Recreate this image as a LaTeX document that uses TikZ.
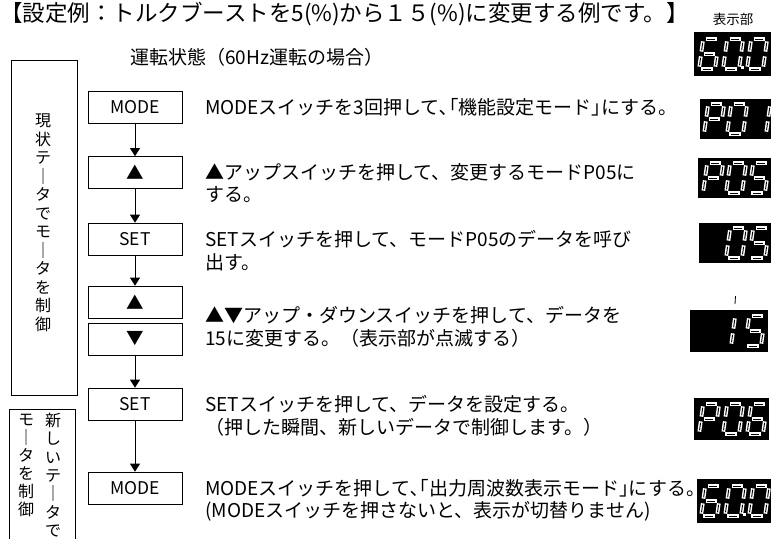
\documentclass[tikz,border=0pt]{standalone}
\usepackage{fontspec}
\setmainfont{Noto Sans CJK JP}
\usetikzlibrary{arrows.meta}
\tikzset{
  flowbox/.style={draw, line width=0.7pt, minimum width=94pt, minimum height=32pt, inner sep=0pt, font=\fontsize{17.5}{20}\selectfont},
  desc/.style={anchor=west, inner sep=0pt, font=\fontsize{19}{22}\selectfont},
  flowarrow/.style={line width=0.7pt, -{Triangle[width=10pt,length=8pt]}},
  dispbox/.style={fill=black, draw=none},
  sideframe/.style={draw, line width=0.7pt},
  vtext/.style={align=center, inner sep=0pt, anchor=north, font=\fontsize{16}{18.5}\selectfont},
  segout/.style={white, line width=3.8pt, shorten <=2.4pt, shorten >=2.4pt},
  segin/.style={black, line width=0.9pt, shorten <=3.8pt, shorten >=3.8pt}
}
\newcommand\segdraw[2]{\draw[segout] #1 -- #2; \draw[segin] #1 -- #2;}
\newcommand\sga{\segdraw{(0,-30)}{(16,-30)}}
\newcommand\sgb{\segdraw{(16,-30)}{(16,-15)}}
\newcommand\sgc{\segdraw{(16,-15)}{(16,0)}}
\newcommand\sgd{\segdraw{(0,0)}{(16,0)}}
\newcommand\sge{\segdraw{(0,-15)}{(0,0)}}
\newcommand\sgf{\segdraw{(0,-30)}{(0,-15)}}
\newcommand\sgg{\segdraw{(0,-15)}{(16,-15)}}
\newcommand\sevdigit[3]{%
  \begin{scope}[shift={(#1,#2)}, xslant=0.14]
    \foreach \sg in {#3}{\csname sg\sg\endcsname}
  \end{scope}}
\begin{document}
\begin{tikzpicture}[x=1pt,y=-1pt]
\useasboundingbox (0,0) rectangle (771,539);

% title and headings
\node[anchor=west, inner sep=0pt, font=\fontsize{22.5}{25}\selectfont] (title) at (0,14)
  {【設定例：トルクブーストを5(\%)から１５(\%)に変更する例です。】};
\node[inner sep=0pt, font=\fontsize{13.5}{15}\selectfont] (dlabel) at (733,19) {表示部};
\node[anchor=west, inner sep=0pt, font=\fontsize{19}{22}\selectfont] (state) at (130,57)
  {運転状態（60Hz運転の場合）};

% left frames
\node[sideframe, minimum width=66pt, minimum height=335pt, inner sep=0pt] (frame1) at (44,227.5) {};
\node[vtext] (vt1) at (43,114) {現\\状\\テ\\｜\\タ\\で\\モ\\｜\\タ\\を\\制\\御};
\draw[sideframe] (9,539) -- (9,409) -- (75,409) -- (75,539);
\node[vtext, font=\fontsize{16}{18.3}\selectfont] (vt2) at (53,413) {新\\し\\い\\テ\\｜\\タ\\で};
\node[vtext, font=\fontsize{16}{18}\selectfont] (vt3) at (26,414) {モ\\｜\\タ\\を\\制\\御};

% flow boxes
\node[flowbox] (m1) at (135,107.5) {MODE};
\node[flowbox] (u1) at (135,172.5) {▲};
\node[flowbox] (s1) at (135,239) {SET};
\node[flowbox] (u2) at (135,302) {▲};
\node[flowbox] (d1) at (135,339) {▼};
\node[flowbox] (s2) at (135,404) {SET};
\node[flowbox] (m2) at (135,488) {MODE};
\draw[flowarrow] (m1) -- (u1);
\draw[flowarrow] (u1) -- (s1);
\draw[flowarrow] (s1) -- (u2);
\draw[flowarrow] (d1) -- (s2);
\draw[flowarrow] (s2) -- (m2);

% descriptions
\node[desc] (t1) at (205,107) {MODEスイッチを3回押して､｢機能設定モード｣にする。};
\node[desc] (t2a) at (205,172) {▲アップスイッチを押して、変更するモードP05に};
\node[desc] (t2b) at (205,195) {する。};
\node[desc] (t3a) at (205,239) {SETスイッチを押して、モードP05のデータを呼び};
\node[desc] (t3b) at (205,262) {出す。};
\node[desc] (t4a) at (205,315) {▲▼アップ・ダウンスイッチを押して、データを};
\node[desc] (t4b) at (205,338) {15に変更する。（表示部が点滅する）};
\node[desc] (t5a) at (205,404) {SETスイッチを押して、データを設定する。};
\node[desc] (t5b) at (205,427) {（押した瞬間、新しいデータで制御します。）};
\node[desc] (t6a) at (205,488) {MODEスイッチを押して､｢出力周波数表示モード｣にする。};
\node[desc] (t6b) at (205,511) {(MODEスイッチを押さないと、表示が切替りません)};

% displays
\fill[dispbox] (694,32) rectangle (771,76);
\sevdigit{699}{69}{a,f,g,e,d,c}
\sevdigit{723}{69}{a,b,c,d,e,f}
\fill[white] (741,66) rectangle (744,69);
\sevdigit{747}{69}{a,b,c,d,e,f}

\fill[dispbox] (700,99) rectangle (771,139);
\sevdigit{704}{134}{a,b,f,g,e}
\sevdigit{727}{134}{a,b,c,d,e,f}
\sevdigit{750}{134}{b,c}

\fill[dispbox] (698,158) rectangle (771,198);
\sevdigit{703}{193}{a,b,f,g,e}
\sevdigit{726}{193}{a,b,c,d,e,f}
\sevdigit{749}{193}{a,f,g,c,d}

\fill[dispbox] (699,223) rectangle (771,263);
\sevdigit{726}{258}{a,b,c,d,e,f}
\sevdigit{749}{258}{a,f,g,c,d}

\fill[dispbox] (690,310) rectangle (768,352);
\draw[line width=0.8pt] (735.5,296) -- (735,304);
\sevdigit{731}{346}{e,f}
\sevdigit{745}{346}{a,f,g,c,d}

\fill[dispbox] (694,398) rectangle (769,440);
\sevdigit{699}{434}{a,b,f,g,e}
\sevdigit{723}{434}{a,b,c,d,e,f}
\sevdigit{747}{434}{a,f,g,e,d,c}

\fill[dispbox] (697,479) rectangle (771,523);
\sevdigit{701}{516}{a,f,g,e,d,c}
\sevdigit{725}{516}{a,b,c,d,e,f}
\fill[white] (743,513) rectangle (746,516);
\sevdigit{749}{516}{a,b,c,d,e,f}
\end{tikzpicture}
\end{document}
